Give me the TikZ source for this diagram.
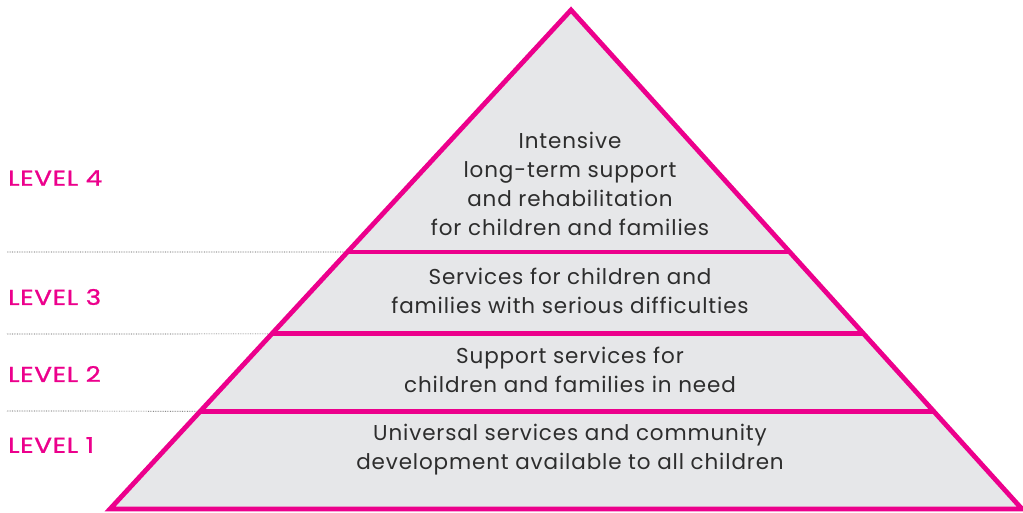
\documentclass[tikz,border=0pt]{standalone}
\usepackage{fontspec}
\setmainfont{Poppins}
\newfontfamily\levelfont[FakeStretch=1.22,FakeBold=1.2,LetterSpace=3]{Poppins}
\newfontfamily\bandfont[LetterSpace=4]{Poppins}
\usetikzlibrary{calc}
\definecolor{pink}{RGB}{236,0,140}
\definecolor{pyrfill}{RGB}{230,231,233}
\definecolor{bandtext}{RGB}{45,45,45}

\begin{document}
\begin{tikzpicture}[x=1pt,y=-1pt,
  level node/.style={anchor=west,text=pink,font=\levelfont\fontsize{21.5}{25}\selectfont,inner sep=0pt},
  band node/.style={align=center,text=bandtext,font=\bandfont\fontsize{21.5}{29}\selectfont,inner sep=0pt},
  edge line/.style={draw=pink,line width=4.8pt,line join=miter},
  guide line/.style={densely dotted,line width=0.7pt,black!70}]

  \useasboundingbox (0,0) rectangle (1023,512);

  \coordinate (top) at (571,10);
  \coordinate (bl) at (110,509);
  \coordinate (br) at (1022,509);

  % band borders on the sides
  \coordinate (l3) at ($(top)!0.485!(bl)$);
  \coordinate (r3) at ($(top)!0.485!(br)$);
  \coordinate (l2) at ($(top)!0.649!(bl)$);
  \coordinate (r2) at ($(top)!0.649!(br)$);
  \coordinate (l1) at ($(top)!0.804!(bl)$);
  \coordinate (r1) at ($(top)!0.804!(br)$);

  \fill[pyrfill] (top) -- (br) -- (bl) -- cycle;

  % dotted guides to the left
  \coordinate (g3) at (7,252);
  \coordinate (g2) at (7,334);
  \coordinate (g1) at (7,411);
  \draw[guide line] (g3) -- (l3);
  \draw[guide line] (g2) -- (l2);
  \draw[guide line] (g1) -- (l1);

  \draw[edge line] (top) -- (br) -- (bl) -- cycle;
  \draw[edge line] (l3) -- (r3);
  \draw[edge line] (l2) -- (r2);
  \draw[edge line] (l1) -- (r1);

  \node[level node] (lev4) at (8,178) {LEVEL 4};
  \node[level node] (lev3) at (8,297) {LEVEL 3};
  \node[level node] (lev2) at (8,374) {LEVEL 2};
  \node[level node] (lev1) at (8,445) {LEVEL 1};

  \node[band node] (band4) at (570,184) {Intensive\\long-term support\\and rehabilitation\\for children and families};
  \node[band node] (band3) at (570,291) {Services for children and\\families with serious difficulties};
  \node[band node] (band2) at (570,370) {Support services for\\children and families in need};
  \node[band node] (band1) at (570,450) {Universal services and community\\development available to all children};

\end{tikzpicture}
\end{document}
